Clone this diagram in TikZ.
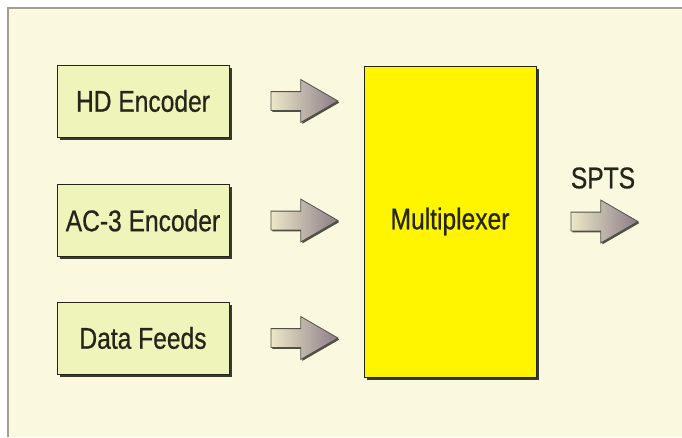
\documentclass[tikz,border=0pt]{standalone}
\usepackage{fontspec}
\setmainfont{Liberation Sans}[FakeStretch=0.82, FakeBold=0.6]
\usetikzlibrary{positioning,shapes.arrows,shadows}

\definecolor{paper}{HTML}{FAF9E0}
\definecolor{framegray}{HTML}{A09F90}
\definecolor{encfill}{HTML}{EFF4BA}
\definecolor{muxfill}{HTML}{FFF500}
\definecolor{inkdark}{HTML}{25261A}
\definecolor{arrowlight}{HTML}{ECE8C8}
\definecolor{arrowdark}{HTML}{8C7C88}

\tikzset{
    blockbox/.style={draw=inkdark, line width=1pt, inner sep=0pt,
        minimum width=172pt, text=inkdark,
        font=\fontsize{30}{32}\selectfont,
        drop shadow={shadow xshift=2.5pt, shadow yshift=-2.5pt, fill=inkdark, opacity=0.9}},
    encbox/.style={blockbox, fill=encfill, minimum height=72pt},
    muxbox/.style={blockbox, fill=muxfill, minimum height=311pt},
    blockarrow/.style={single arrow, draw=inkdark!80, line width=0.8pt,
        inner xsep=0pt, inner ysep=9pt, minimum height=67pt,
        single arrow head extend=12pt, single arrow tip angle=60,
        left color=arrowlight, right color=arrowdark,
        drop shadow={shadow xshift=1.5pt, shadow yshift=-1.5pt, fill=inkdark, opacity=0.8}},
    lbl/.style={inner sep=0pt, text=inkdark, font=\fontsize{30}{32}\selectfont}
}

\begin{document}
\begin{tikzpicture}[x=1pt, y=-1pt]
    \useasboundingbox (0,0) rectangle (682,437);
    \fill[white] (0,0) rectangle (682,437);
    \fill[paper] (8,8) rectangle (682,437);
    \draw[framegray, line width=1.6pt] (8,437) -- (8,8) -- (682,8);

    \node[muxbox] (mux) at (450,221.5) {Multiplexer};
    \foreach \name/\txt/\y in {hd/HD Encoder/101, ac3/AC-3 Encoder/220.5, data/Data Feeds/338}{
        \node[encbox] (\name) at (143,\y) {\txt};
        \node[blockarrow, right=41pt of \name] (\name arr) {};
    }

    \node[blockarrow, right=34pt of mux] (sptsarr) {};
    \node[lbl] (spts) at (603,178) {SPTS};
\end{tikzpicture}
\end{document}
